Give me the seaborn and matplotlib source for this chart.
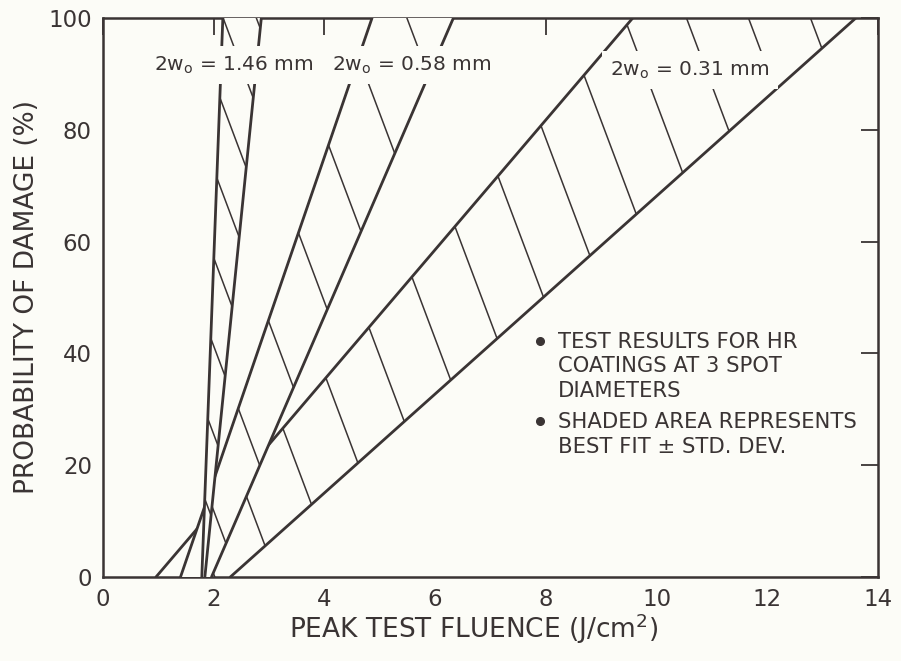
import numpy as np
import pandas as pd
import matplotlib
matplotlib.use("Agg")
import matplotlib.pyplot as plt
from matplotlib.patches import Polygon
import seaborn as sns

# Spot diameters 2w0 (mm) of the three test series
spot_diameter_mm = ["1.46", "0.58", "0.31"]

# Straight-line fits of damage probability vs. fluence.
# Left edge = best fit + std. dev., right edge = best fit - std. dev.;
# values are the fluences (J/cm^2) where each edge crosses 0 % and 100 %.
plus_sigma_F0 = [1.785, 1.40, 0.957]
plus_sigma_F100 = [2.165, 4.86, 9.57]
minus_sigma_F0 = [1.84, 1.96, 2.30]
minus_sigma_F100 = [2.86, 6.33, 13.6]
edge_prob = [0, 100]

x_ticks = [0, 2, 4, 6, 8, 10, 12, 14]
y_ticks = [0, 20, 40, 60, 80, 100]

notes = [
    ["TEST RESULTS FOR HR", "COATINGS AT 3 SPOT", "DIAMETERS"],
    ["SHADED AREA REPRESENTS", "BEST FIT \u00b1 STD. DEV."],
]

# ---- styling -------------------------------------------------------------
BG = "#fcfcf7"
INK = "#3a3434"
HATCH_SLOPE = -0.038            # J/cm^2 per % along a hatch stroke
hatch_start = [1.77, 1.31, 0.90]
hatch_step = [0.60, 1.14, 1.12]
label_xy = [(2.35, 91.6), (5.57, 91.6), (10.6, 90.7)]

sns.set_theme(style="white")
plt.rcParams["font.family"] = ["DejaVu Sans"]
plt.rcParams["mathtext.default"] = "regular"

fig = plt.figure(figsize=(9.01, 6.61), dpi=100, facecolor=BG)
ax = fig.add_axes([103 / 901, 1 - 577 / 661, 775 / 901, 559 / 661])
ax.set_facecolor(BG)

# draw the widest band first so the narrower bands sit on top of it
for layer, i in enumerate([2, 1, 0]):
    z = 2 + 3 * layer
    band = Polygon(
        [(plus_sigma_F0[i], edge_prob[0]), (plus_sigma_F100[i], edge_prob[1]),
         (minus_sigma_F100[i], edge_prob[1]), (minus_sigma_F0[i], edge_prob[0])],
        closed=True, facecolor=BG, edgecolor="none", zorder=z)
    ax.add_patch(band)

    # single-direction hatching clipped to the band
    yy = np.array([-5.0, 105.0])
    for c in np.arange(hatch_start[i], minus_sigma_F100[i] + 4.5, hatch_step[i]):
        ln, = ax.plot(c + HATCH_SLOPE * yy, yy, color=INK, lw=1.1,
                      solid_capstyle="butt", zorder=z + 1)
        ln.set_clip_path(band)

    edges = pd.DataFrame({
        "fluence": [plus_sigma_F0[i], plus_sigma_F100[i],
                    minus_sigma_F0[i], minus_sigma_F100[i]],
        "prob": edge_prob * 2,
        "edge": ["plus", "plus", "minus", "minus"],
    })
    sns.lineplot(data=edges, x="fluence", y="prob", units="edge",
                 estimator=None, sort=False, color=INK, lw=2.0,
                 ax=ax, zorder=z + 2)

for (lx, ly), d in zip(label_xy, spot_diameter_mm):
    ax.text(lx, ly, f"2w$_o$ = {d} mm", ha="center", va="center",
            fontsize=14.5, color=INK, zorder=30,
            bbox=dict(facecolor=BG, edgecolor="none", pad=6))

# explanatory notes
baselines = [[348, 372, 397], [428, 453]]
for para, rows in zip(notes, baselines):
    ax.plot([(540 - 103) / 775], [(577 - rows[0] + 7) / 559], marker="o",
            ms=5.5, color=INK, transform=ax.transAxes, zorder=30)
    for txt, py in zip(para, rows):
        ax.text((558 - 103) / 775, (577 - py) / 559, txt, ha="left",
                va="baseline", fontsize=15.2, color=INK,
                transform=ax.transAxes, zorder=30)

ax.set_xlim(0, 14)
ax.set_ylim(0, 100)
ax.set_xticks(x_ticks)
ax.set_yticks(y_ticks)
ax.grid(False)
ax.tick_params(direction="in", length=12, width=1.3, top=True, right=True,
               colors=INK, labelsize=16.5, pad=8)
for s in ax.spines.values():
    s.set_color(INK)
    s.set_linewidth(1.8)

ax.set_xlabel("PEAK TEST FLUENCE (J/cm$^2$)", fontsize=19, color=INK)
ax.set_ylabel("PROBABILITY OF DAMAGE (%)", fontsize=19, color=INK)
ax.xaxis.set_label_coords((474 - 103) / 775, -0.062)
ax.yaxis.set_label_coords((40 - 103) / 775, 0.5)

fig.savefig("out.png", dpi=100, facecolor=BG)
